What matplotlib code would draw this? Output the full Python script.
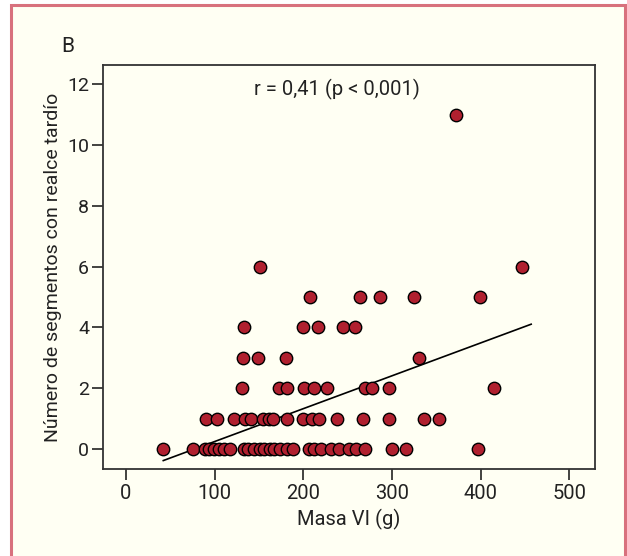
import matplotlib
matplotlib.use("Agg")
import matplotlib.pyplot as plt
from matplotlib.patches import Rectangle

# ---- data ----
masa_y0 = [42, 76, 89, 94, 99, 105, 110, 117, 133, 138, 144, 151, 156, 162, 167, 174,
           181, 188, 206, 212, 220, 231, 240, 251, 259, 269, 300, 316, 397]
masa_y1 = [90, 103, 122, 134, 141, 154, 161, 166, 182, 200, 210, 218, 238, 267, 297, 336, 353]
masa_y2 = [131, 172, 182, 201, 212, 227, 269, 278, 297, 415]
masa_y3 = [132, 149, 180, 331]
masa_y4 = [133, 200, 217, 245, 258]
masa_y5 = [207, 264, 287, 325, 399]
masa_y6 = [151, 447]
masa_y11 = [372]

groups = [(masa_y0, 0), (masa_y1, 1), (masa_y2, 2), (masa_y3, 3), (masa_y4, 4),
          (masa_y5, 5), (masa_y6, 6), (masa_y11, 11)]
masa = [x for xs, _ in groups for x in xs]
segmentos = [y for xs, y in groups for _ in xs]

fit_slope = 0.01081
fit_intercept = -0.837

x_ticks = [0, 100, 200, 300, 400, 500]
y_ticks = [0, 2, 4, 6, 8, 10, 12]
annotation = "r = 0,41 (p < 0,001)"
panel_label = "B"
x_label = "Masa VI (g)"
y_label = "Número de segmentos con realce tardío"

plt.rcParams['font.family'] = ['Roboto', 'DejaVu Sans']

cream = "#FFFFF3"
fig = plt.figure(figsize=(6.27, 5.56), dpi=100)
fig.patch.set_facecolor("white")
W, H = 627, 556
frame = Rectangle((10.5 / W, -0.01), (625 - 10.5) / W, (556 - 5) / H + 0.01,
                  transform=fig.transFigure, facecolor=cream,
                  edgecolor="#D8717D", linewidth=2.2, zorder=-5)
fig.add_artist(frame)

ax = fig.add_axes([103 / W, 1 - 469 / H, 492 / W, 404 / H])
ax.set_zorder(2)
ax.set_facecolor(cream)
ax.scatter(masa, segmentos, s=80, facecolor="#B0202F", edgecolor="black",
           linewidth=1.0, zorder=3)
xl = [min(masa), 457]
ax.plot(xl, [fit_intercept + fit_slope * v for v in xl], color="black", lw=1.2, zorder=2)

ax.set_xlim(-26, 529)
ax.set_ylim(-0.66, 12.63)
ax.set_xticks(x_ticks)
ax.set_yticks(y_ticks)
ax.tick_params(direction="out", length=8, width=1.2, labelsize=14.5, colors="#222222", pad=3)
ax.tick_params(axis="y", pad=2, labelsize=14)
for s in ax.spines.values():
    s.set_linewidth(1.3)
    s.set_color("#333333")
ax.set_xlabel(x_label, fontsize=14.5, labelpad=4, color="#222222")
ax.set_ylabel(y_label, fontsize=14, labelpad=4, color="#222222")
ax.text(0.475, 0.94, annotation, transform=ax.transAxes, ha="center", va="center",
        fontsize=14.5, color="#222222")
fig.text(68 / W, 1 - 47 / H, panel_label, ha="center", va="center", fontsize=15,
         color="#222222", zorder=3)

fig.savefig("out.png", dpi=100, facecolor=fig.get_facecolor())
